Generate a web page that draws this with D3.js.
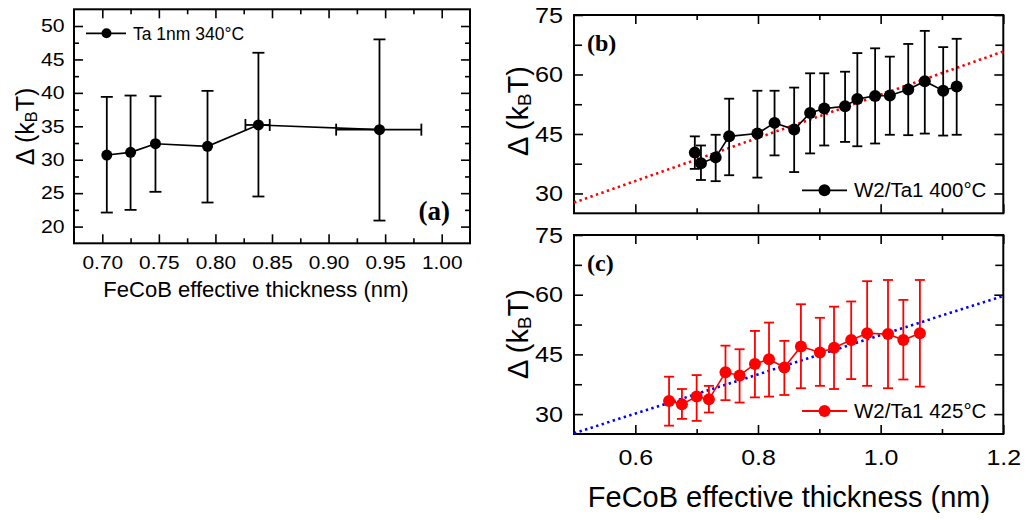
<!DOCTYPE html>
<html><head><meta charset="utf-8">
<script src="https://cdnjs.cloudflare.com/ajax/libs/d3/7.8.5/d3.min.js"></script>
<style>body{margin:0;background:#fff}svg{display:block}</style>
</head><body>
<svg id="c" width="1027" height="520"></svg>
<script>
// ---- Data ----
// Panel (a): Ta 1nm 340°C
const aX   = [0.704, 0.725, 0.747, 0.793, 0.838, 0.945];
const aY   = [30.7, 31.1, 32.4, 32.0, 35.2, 34.5];
const aYlo = [22.1, 22.5, 25.2, 23.6, 24.5, 20.9];
const aYhi = [39.4, 39.6, 39.5, 40.3, 46.0, 48.0];
const aXlo = [null, null, null, null, 0.8265, 0.9067];
const aXhi = [null, null, null, null, 0.848, 0.982];
// Panel (b): W2/Ta1 400°C
const bX  = [0.697,0.707,0.731,0.753,0.799,0.827,0.859,0.885,0.908,0.942,0.962,0.991,1.015,1.045,1.072,1.102,1.124];
const bY  = [40.3,37.6,39.1,44.4,45.1,47.8,46.1,50.3,51.4,52.0,53.8,54.6,54.7,56.2,58.3,55.9,57.0];
const bLo = [36.2,33.4,33.1,34.6,34.0,39.6,35.4,40.1,42.1,43.0,41.9,42.6,44.8,44.7,45.1,44.6,44.8];
const bHi = [44.4,42.1,44.8,53.9,55.9,55.9,56.7,60.3,60.3,60.7,65.4,66.6,64.5,67.7,71.0,66.9,69.0];
const bFitX = [0.5, 1.2];
const bFitY = [27.7, 65.8];
// Panel (c): W2/Ta1 425°C
const cX  = [0.655,0.676,0.700,0.720,0.747,0.770,0.795,0.818,0.843,0.870,0.901,0.924,0.952,0.978,1.012,1.037,1.064];
const cY  = [33.3,32.5,34.4,33.7,40.5,39.7,42.6,43.8,41.7,47.0,45.5,46.7,48.6,50.3,50.1,48.6,50.3];
const cLo = [27.1,28.8,28.3,30.4,33.5,32.9,34.2,34.4,34.8,36.5,37.1,36.3,38.8,37.1,36.5,38.7,36.9];
const cHi = [39.4,36.3,39.8,37.1,47.2,46.3,50.9,53.0,48.4,57.6,54.2,57.0,58.3,63.4,63.7,58.7,63.7];
const cFitX = [0.5, 1.2];
const cFitY = [25.2, 59.7];
// Tick labels
const aXTicks = [0.70,0.75,0.80,0.85,0.90,0.95,1.00];
const aXMinor = [0.725,0.775,0.825,0.875,0.925,0.975];
const aYTicks = [20,25,30,35,40,45,50];
const aYMinor = [22.5,27.5,32.5,37.5,42.5,47.5];
const bcXTicks = [0.6,0.8,1.0,1.2];
const bcXMinor = [0.7,0.9,1.1];
const bcYTicks = [30,45,60,75];
const bcYMinor = [37.5,52.5,67.5];
const labels = {a:"Ta 1nm 340°C", b:"W2/Ta1 400°C", c:"W2/Ta1 425°C"};
const xTitle = "FeCoB effective thickness (nm)";

const svg = d3.select("#c");
const SANS = "'Liberation Sans', Arial, sans-serif";
const SERIF = "'Liberation Serif', 'Times New Roman', serif";

function frameAxes(g, x, y, o) {
  const [l, r] = x.range(), [b, t] = y.range();
  const style = s => s.call(a => a.select(".domain").remove())
    .call(a => a.selectAll("line").attr("stroke", "#000").attr("stroke-width", 1.6))
    .call(a => a.selectAll("text").attr("font-family", SANS).attr("fill", "#000"));
  // bottom
  g.append("g").attr("transform", `translate(0,${b})`)
    .call(d3.axisBottom(x).tickValues(o.xMinor).tickSize(-5).tickFormat("")).call(style);
  const xb = g.append("g").attr("transform", `translate(0,${b})`)
    .call(d3.axisBottom(x).tickValues(o.xTicks).tickSize(-9).tickPadding(o.xPad)
      .tickFormat(o.xLabels ? d3.format(o.xFmt) : "")).call(style);
  xb.selectAll("text").attr("font-size", o.xFs).attr("transform", `scale(${o.xSx},1)`);
  // top
  g.append("g").attr("transform", `translate(0,${t})`)
    .call(d3.axisTop(x).tickValues(o.xMinor).tickSize(-5).tickFormat("")).call(style);
  g.append("g").attr("transform", `translate(0,${t})`)
    .call(d3.axisTop(x).tickValues(o.xTicks).tickSize(-9).tickFormat("")).call(style);
  // left
  g.append("g").attr("transform", `translate(${l},0)`)
    .call(d3.axisLeft(y).tickValues(o.yMinor).tickSize(-o.yMinLen).tickFormat("")).call(style);
  const yl = g.append("g").attr("transform", `translate(${l},0)`)
    .call(d3.axisLeft(y).tickValues(o.yTicks).tickSize(-9).tickPadding(o.yPad).tickFormat(d3.format("d"))).call(style);
  yl.selectAll("text").attr("font-size", o.yFs).attr("x", -o.yPad / o.ySx)
    .attr("transform", `scale(${o.ySx},1)`);
  // right
  g.append("g").attr("transform", `translate(${r},0)`)
    .call(d3.axisRight(y).tickValues(o.yMinor).tickSize(-o.yMinLen).tickFormat("")).call(style);
  g.append("g").attr("transform", `translate(${r},0)`)
    .call(d3.axisRight(y).tickValues(o.yTicks).tickSize(-9).tickFormat("")).call(style);
  g.append("rect").attr("x", l).attr("y", t).attr("width", r - l).attr("height", b - t)
    .attr("fill", "none").attr("stroke", "#000").attr("stroke-width", 2);
}

function yTitle(tx, ty, fs) {
  const t = svg.append("text").attr("transform", `translate(${tx},${ty}) rotate(-90)`)
    .attr("text-anchor", "middle").attr("font-family", SANS).attr("font-size", fs).attr("fill", "#000");
  t.append("tspan").text("Δ (k");
  t.append("tspan").attr("font-size", fs * 0.65).attr("dy", fs * 0.12).text("B");
  t.append("tspan").attr("dy", -fs * 0.12).text("T)");
}

function errBars(g, x, y, xs, ys, lo, hi, color, cap) {
  xs.forEach((xv, i) => {
    const px = x(xv);
    g.append("line").attr("x1", px).attr("x2", px).attr("y1", y(lo[i])).attr("y2", y(hi[i]))
      .attr("stroke", color).attr("stroke-width", 1.8);
    [lo[i], hi[i]].forEach(v => g.append("line").attr("x1", px - cap).attr("x2", px + cap)
      .attr("y1", y(v)).attr("y2", y(v)).attr("stroke", color).attr("stroke-width", 1.8));
  });
}

// ---------- Panel (a) ----------
{
  const x = d3.scaleLinear().domain([0.675, 1.025]).range([74, 470]);
  const y = d3.scaleLinear().domain([17.5, 52.5]).range([243.3, 9.3]);
  const g = svg.append("g");
  frameAxes(g, x, y, {xTicks: aXTicks, xMinor: aXMinor, yTicks: aYTicks, yMinor: aYMinor,
    xPad: 13, xFs: 18.6, xSx: 1.12, xFmt: ".2f", xLabels: true, yPad: 9.5, yFs: 18, ySx: 1.18, yMinLen: 5});
  errBars(g, x, y, aX, aY, aYlo, aYhi, "#000", 6);
  aX.forEach((xv, i) => {
    if (aXlo[i] == null) return;
    const py = y(aY[i]);
    g.append("line").attr("x1", x(aXlo[i])).attr("x2", x(aXhi[i])).attr("y1", py).attr("y2", py)
      .attr("stroke", "#000").attr("stroke-width", 1.8);
    [aXlo[i], aXhi[i]].forEach(v => g.append("line").attr("x1", x(v)).attr("x2", x(v))
      .attr("y1", py - 6).attr("y2", py + 6).attr("stroke", "#000").attr("stroke-width", 1.8));
  });
  g.append("path").datum(aX.map((d, i) => [d, aY[i]]))
    .attr("d", d3.line().x(d => x(d[0])).y(d => y(d[1])))
    .attr("fill", "none").attr("stroke", "#000").attr("stroke-width", 1.6);
  g.selectAll("circle.pa").data(aX).join("circle").attr("cx", d => x(d)).attr("cy", (d, i) => y(aY[i]))
    .attr("r", 5.5).attr("fill", "#000");
  // legend
  g.append("line").attr("x1", 86).attr("x2", 126).attr("y1", 33.3).attr("y2", 33.3).attr("stroke", "#000").attr("stroke-width", 1.8);
  g.append("circle").attr("cx", 106.5).attr("cy", 33.3).attr("r", 5).attr("fill", "#000");
  g.append("text").attr("x", 133).attr("y", 39.5).attr("font-family", SANS).attr("font-size", 17.5).text(labels.a);
  g.append("text").attr("x", 450).attr("y", 220).attr("text-anchor", "end").attr("font-family", SERIF)
    .attr("font-weight", "bold").attr("font-size", 27).text("(a)");
  g.append("text").attr("x", 256).attr("y", 297).attr("text-anchor", "middle").attr("font-family", SANS)
    .attr("font-size", 22).text(xTitle);
  yTitle(34, 126.5, 25);
}

// ---------- Panels (b) and (c) ----------
function panelBC(top, bottom, xs, ys, lo, hi, fitX, fitY, color, fitColor, lab, tag, showX) {
  const x = d3.scaleLinear().domain([0.5, 1.2]).range([574, 1003.3]);
  const y = d3.scaleLinear().domain([25, 75]).range([bottom, top]);
  const g = svg.append("g");
  frameAxes(g, x, y, {xTicks: bcXTicks, xMinor: bcXMinor, yTicks: bcYTicks, yMinor: bcYMinor,
    xPad: 15.5, xFs: 21.5, xSx: 1.16, xFmt: ".1f", xLabels: showX, yPad: 11, yFs: 22.5, ySx: 1.12, yMinLen: 8});
  // fit line
  g.append("path").datum(fitX.map((d, i) => [d, fitY[i]]))
    .attr("d", d3.line().x(d => x(d[0])).y(d => y(d[1])))
    .attr("fill", "none").attr("stroke", fitColor).attr("stroke-width", 2.6).attr("stroke-dasharray", "2.4,3.4");
  errBars(g, x, y, xs, ys, lo, hi, color, 5);
  g.append("path").datum(xs.map((d, i) => [d, ys[i]]))
    .attr("d", d3.line().x(d => x(d[0])).y(d => y(d[1])))
    .attr("fill", "none").attr("stroke", color).attr("stroke-width", 1.6);
  g.selectAll("circle.pt").data(xs).join("circle").attr("cx", d => x(d)).attr("cy", (d, i) => y(ys[i]))
    .attr("r", 6).attr("fill", color);
  // legend
  const ly = bottom - 23;
  g.append("line").attr("x1", 802).attr("x2", 847).attr("y1", ly).attr("y2", ly).attr("stroke", color).attr("stroke-width", 1.8);
  g.append("circle").attr("cx", 824.5).attr("cy", ly).attr("r", 6).attr("fill", color);
  g.append("text").attr("x", 854).attr("y", ly + 7).attr("font-family", SANS).attr("font-size", 20.5).text(lab);
  g.append("text").attr("x", 587).attr("y", top + 36).attr("font-family", SERIF)
    .attr("font-weight", "bold").attr("font-size", 24).text(tag);
}
panelBC(15, 213.3, bX, bY, bLo, bHi, bFitX, bFitY, "#000", "#ff0000", labels.b, "(b)", false);
panelBC(235, 434, cX, cY, cLo, cHi, cFitX, cFitY, "#ff0000", "#0000ff", labels.c, "(c)", true);
yTitle(528, 111, 29);
yTitle(528, 334, 29);
svg.append("text").attr("x", 789).attr("y", 506.5).attr("text-anchor", "middle").attr("font-family", SANS)
  .attr("font-size", 29).text(xTitle);
</script>
</body></html>
